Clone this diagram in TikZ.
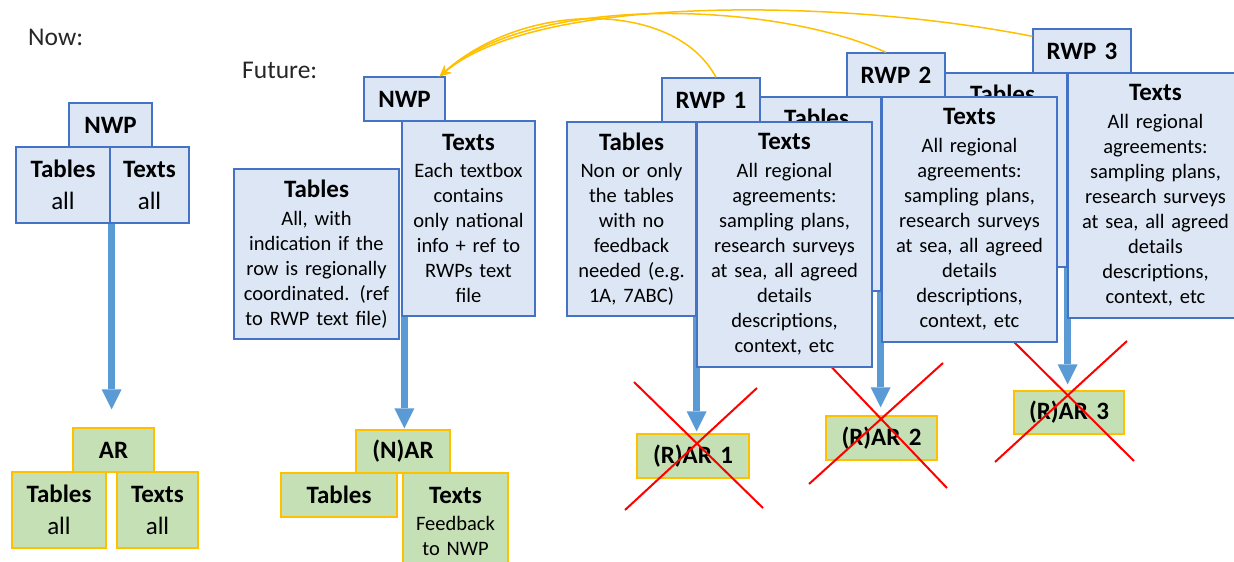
\documentclass[tikz,border=0pt]{standalone}
\usepackage{fontspec}
\setmainfont{Carlito}
\usetikzlibrary{arrows.meta}
\definecolor{boxblue}{HTML}{4472C4}
\definecolor{fillblue}{HTML}{DCE6F4}
\definecolor{fillgreen}{HTML}{C5E0B4}
\definecolor{gold}{HTML}{FFC000}
\definecolor{arrblue}{HTML}{5B9BD5}
\newcommand{\bdf}{\fontsize{20.5}{25}\selectfont}
\newcommand{\hdf}{\fontsize{25}{30}\selectfont\bfseries}
\newcommand{\nowf}{\fontsize{25}{32}\selectfont}
\newcommand{\rtexts}{{\hdf Texts}\\[2.7pt]All regional\\agreements:\\sampling plans,\\research surveys\\at sea, all agreed\\details\\descriptions,\\context, etc}
\newcommand{\rtables}{{\hdf Tables}\\[2.7pt]Non or only\\the tables\\with no\\feedback\\needed (e.g.\\1A, 7ABC)}
\pgfdeclarelayer{bg}
\pgfsetlayers{bg,main}
\begin{document}
\begin{tikzpicture}[x=1pt,y=-1pt,
  bbox/.style={draw=boxblue, fill=fillblue, line width=1.3pt, inner sep=0pt, align=center, font=\bdf, text=black},
  gbox/.style={draw=gold, fill=fillgreen, line width=1.3pt, inner sep=0pt, align=center, font=\bdf, text=black},
  sz/.style 2 args={minimum width=#1pt, text width=#1pt, minimum height=#2pt},
  hdrtxt/.style={font=\hdf, inner sep=0pt, text=black},
  bigarrow/.style={draw=arrblue, line width=7pt, -{Triangle[length=20pt,width=20pt,line width=0pt]}},
  goldarrow/.style={draw=gold, line width=1.5pt, -{Stealth[length=11pt,width=10pt]}},
  redx/.style={draw=red, line width=2pt},
  lbl/.style={anchor=base west, font=\fontsize{25.5}{30}\selectfont, inner sep=0pt, text=black!85}]
\useasboundingbox (0,0) rectangle (1234,562);

% labels
\node[lbl] (now) at (28,45) {Now:};
\node[lbl] (future) at (242,78) {Future:};

% green report boxes
\node[gbox, sz={81}{44}, font=\hdf] (nowar) at (113.5,450) {AR};
\node[gbox, sz={94}{76}, font=\nowf] (nowartab) at (59,510) {\textbf{Tables}\\all};
\node[gbox, sz={81}{76}, font=\nowf] (nowartxt) at (157.5,510) {\textbf{Texts}\\all};

\node[gbox, sz={94}{43}, font=\hdf] (nar) at (403,451.5) {(N)AR};
\node[gbox, sz={116}{44}, font=\hdf] (nartab) at (339,495) {Tables};
\node[gbox, sz={105}{97}] (nartxt) at (455.5,521.5) {{\hdf Texts}\\[2.7pt]Feedback\\to NWP};

\node[gbox, sz={112}{44}, font=\hdf] (rar1) at (693,456) {(R)AR 1};
\node[gbox, sz={111}{44}, font=\hdf] (rar2) at (881.5,438) {(R)AR 2};
\node[gbox, sz={110}{43}, font=\hdf] (rar3) at (1069,412.5) {(R)AR 3};

% red crosses
\draw[redx] (634,382) -- (763,508);
\draw[redx] (757,388) -- (625,510);
\draw[redx] (822,357) -- (947,488);
\draw[redx] (943,363) -- (809,484);
\draw[redx] (1008,336) -- (1134,461);
\draw[redx] (1127,341) -- (995,462);

% RWP 3 group
\node[bbox, sz={98}{44}, font=\hdf] (rwp3) at (1082,51) {RWP 3};
\node[bbox, sz={129}{194}] (r3tab) at (1002.5,170) {};
\node[hdrtxt, anchor=base] (r3tabh) at ([yshift=-30pt]r3tab.north) {Tables};
\node[bbox, sz={175}{245}] (r3txt) at (1155.5,195.5) {\rtexts};

% RWP 2 group
\node[bbox, sz={98}{44}, font=\hdf] (rwp2) at (896,75) {RWP 2};
\node[bbox, sz={129}{194}] (r2tab) at (816.5,194) {};
\node[hdrtxt, anchor=base] (r2tabh) at ([yshift=-30pt]r2tab.north) {Tables};
\node[bbox, sz={175}{245}] (r2txt) at (969.5,219.5) {\rtexts};

% RWP 1 group
\node[bbox, sz={98}{44}, font=\hdf] (rwp1) at (711,100) {RWP 1};
\node[bbox, sz={129}{194}] (r1tab) at (631.5,219) {\rtables};
\node[bbox, sz={175}{245}] (r1txt) at (784.5,244.5) {\rtexts};

% Future NWP
\node[bbox, sz={81}{44}, font=\hdf] (nwp) at (404.5,99) {NWP};
\node[bbox, sz={133}{195}] (nwptxt) at (468.5,218.5) {{\hdf Texts}\\[2.7pt]Each textbox\\contains\\only national\\info + ref to\\RWPs text\\file};
\node[bbox, sz={165}{170}] (nwptab) at (316.5,254) {{\hdf Tables}\\[2.7pt]All, with\\indication if the\\row is regionally\\coordinated. (ref\\to RWP text file)};

% Now NWP
\node[bbox, sz={83}{44}, font=\hdf] (nownwp) at (110.5,125) {NWP};
\node[bbox, sz={94}{76}, font=\nowf] (nowtab) at (63,185) {\textbf{Tables}\\all};
\node[bbox, sz={79}{76}, font=\nowf] (nowtxt) at (149.5,185) {\textbf{Texts}\\all};

% blue arrows behind boxes
\begin{pgfonlayer}{bg}
\coordinate (s0) at ([xshift=1pt]nowtab.south east);
\draw[bigarrow, shorten >=18pt] (s0) -- (s0 |- nowar.north);
\coordinate (s1) at ([xshift=3pt]nwptxt.south west);
\draw[bigarrow, shorten >=1pt] (s1) -- (s1 |- nar.north);
\coordinate (s2) at (r1tab.east);
\draw[bigarrow, shorten >=2pt] (s2) -- (s2 |- rar1.north);
\coordinate (s3) at ([xshift=-1pt]r2tab.east);
\draw[bigarrow, shorten >=8pt] (s3) -- (s3 |- rar2.north);
\coordinate (s4) at (r3tab.east);
\draw[bigarrow, shorten >=6pt] (s4) -- (s4 |- rar3.north);
\end{pgfonlayer}

% gold feedback curves
\coordinate (tipn) at ([xshift=-6pt]nwp.north east);
\draw[goldarrow] ([xshift=5pt]rwp1.north) .. controls (675,0) and (525,0) .. (tipn);
\draw[goldarrow] ([xshift=-10pt]rwp2.north) .. controls (770,0) and (530,-5) .. (tipn);
\draw[goldarrow] ([yshift=-8pt]rwp3.north west) .. controls (850,0) and (540,-8) .. (tipn);
\end{tikzpicture}
\end{document}
